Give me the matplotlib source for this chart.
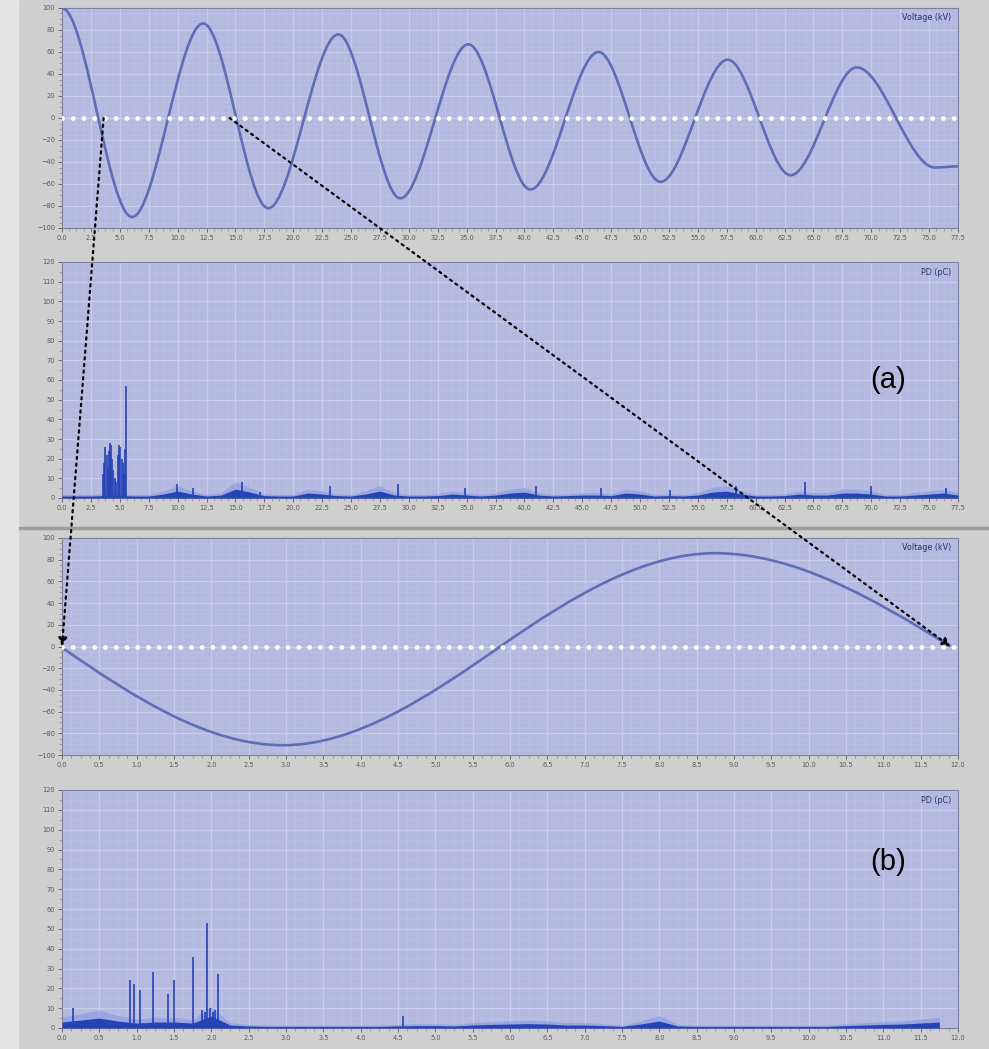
import numpy as np
import matplotlib
matplotlib.use('Agg')
import matplotlib.pyplot as plt
from matplotlib.path import Path
from matplotlib.patches import PathPatch, ConnectionPatch
from matplotlib.ticker import MultipleLocator, FormatStrFormatter

# ---------------- data ----------------
# (a) voltage: extrema of the damped oscillation (ms, kV)
volt_a_t = [0.0, 6.06, 12.21, 17.84, 23.90, 29.26, 35.15, 40.52, 46.41,
            51.77, 57.58, 63.03, 68.74, 75.5, 77.5]
volt_a_v = [100, -90, 86, -82, 76, -73, 67, -65, 60, -58, 53, -52, 46, -45, -44]

# (a) PD baseline level every 1.25 ms (pC)
pd_a_base_t = [i * 1.25 for i in range(63)]
pd_a_base_v = [1.0, 1.0, 1.0, 1.2, 1.2, 1.0, 1.0, 2.0, 3.5, 2.0, 1.0, 1.5, 4.5,
               3.0, 1.2, 1.0, 1.0, 2.5, 2.0, 1.2, 1.0, 2.0, 3.5, 1.5, 1.0, 1.0,
               1.2, 2.0, 1.5, 1.0, 1.5, 2.5, 3.0, 1.5, 1.0, 1.2, 1.5, 1.5, 1.2,
               2.5, 2.0, 1.0, 1.2, 1.0, 1.5, 3.0, 3.5, 2.0, 1.0, 1.0, 1.2, 2.0,
               1.5, 1.5, 2.5, 2.5, 2.0, 1.0, 1.0, 1.5, 2.0, 2.5, 1.5]
# (a) PD pulses
pd_a_pulse_t = [3.55, 3.65, 3.75, 3.85, 3.95, 4.05, 4.15, 4.25, 4.35, 4.45,
                4.55, 4.70, 4.85, 4.95, 5.05, 5.15, 5.25, 5.35, 5.45, 5.54,
                9.95, 11.3, 15.6, 17.1, 23.2, 29.1, 34.9, 41.0, 46.6, 52.6,
                58.3, 64.3, 70.0, 76.5]
pd_a_pulse_v = [12, 18, 26, 22, 16, 24, 28, 27, 20, 14,
                10, 8, 22, 27, 26, 20, 18, 12, 25, 57,
                7, 5, 8, 3, 6, 7, 5, 6, 5, 4,
                6, 8, 6, 5]

# (b) voltage: one cycle, zero crossings and extrema (ms, kV)
volt_b_t = [0.0, 2.96, 5.87, 8.75, 11.9]
volt_b_v = [-1, -91, 0, 86, 0]

# (b) PD baseline every 0.25 ms
pd_b_base_t = [i * 0.25 for i in range(48)]
pd_b_base_v = [3, 4, 5, 3.5, 2.5, 3, 3, 2.5, 6, 1.5, 1.0, 0.8, 0.8, 0.8, 0.8,
               0.8, 0.8, 0.8, 1.0, 1.2, 1.2, 1.0, 1.5, 1.8, 2.0, 2.2, 2.0, 1.5,
               1.5, 1.2, 0.8, 2.0, 3.5, 1.0, 0.8, 0.8, 0.8, 0.8, 0.8, 0.8, 0.8,
               0.8, 1.2, 1.5, 1.8, 2.0, 2.5, 3.0]
pd_b_pulse_t = [0.15, 0.91, 0.97, 1.05, 1.22, 1.42, 1.50, 1.75, 1.88, 1.92,
                1.94, 1.98, 2.02, 2.05, 2.09, 4.57]
pd_b_pulse_v = [10, 24, 22, 19, 28, 17, 24, 36, 9, 8, 53, 10, 8, 9, 27, 6]

a_ticks = [i * 2.5 for i in range(32)]
b_ticks = [i * 0.5 for i in range(25)]
volt_ticks = list(range(-100, 101, 20))
pd_ticks = list(range(0, 121, 10))

# zero crossings used by the arrows
cross_a = [3.6, 14.5]
cross_b = [0.0, 11.9]

# ---------------- style ----------------
FIG_BG = '#cfcfcf'
AX_BG = '#b6b9df'
GRID_MAJ = '#c9ccee'
GRID_MIN = '#bec1e6'
CURVE = '#5e6db6'
PD_DARK = '#2443b5'
PD_LIGHT = '#7b93e6'
LBL = '#5a5a5a'


def smooth_path(ts, vs):
    n = len(ts)
    m = []
    for i in range(n):
        if 0 < i < n - 1:
            if (vs[i] - vs[i - 1]) * (vs[i + 1] - vs[i]) < 0:
                m.append(0.0)
            else:
                m.append(np.pi / 2 * (vs[i + 1] - vs[i - 1]) / (ts[i + 1] - ts[i - 1]))
        else:
            j = 1 if i == 0 else n - 2
            if abs(vs[i]) < 0.2 * abs(vs[j]):
                m.append(np.pi / 2 * (vs[j] - vs[i]) / (ts[j] - ts[i]))
            else:
                m.append(0.0)
    verts = [(ts[0], vs[0])]
    codes = [Path.MOVETO]
    for i in range(n - 1):
        dt = ts[i + 1] - ts[i]
        verts += [(ts[i] + dt / 3, vs[i] + m[i] * dt / 3),
                  (ts[i + 1] - dt / 3, vs[i + 1] - m[i + 1] * dt / 3),
                  (ts[i + 1], vs[i + 1])]
        codes += [Path.CURVE4] * 3
    return Path(verts, codes)


fig = plt.figure(figsize=(9.89, 10.49), dpi=100, facecolor=FIG_BG)

L, W = 62 / 989, 896 / 989


def ax_at(top_px, bot_px):
    return fig.add_axes([L, 1 - bot_px / 1049, W, (bot_px - top_px) / 1049])


def style(ax, xmax, xticks, xminor, yticks, ymin, ymax, yminor, label):
    ax.set_facecolor(AX_BG)
    ax.set_xlim(0, xmax)
    ax.set_ylim(ymin, ymax)
    ax.set_xticks(xticks)
    ax.set_yticks(yticks)
    ax.xaxis.set_minor_locator(MultipleLocator(xminor))
    ax.yaxis.set_minor_locator(MultipleLocator(yminor))
    ax.xaxis.set_major_formatter(FormatStrFormatter('%.1f'))
    ax.grid(True, which='major', color=GRID_MAJ, lw=0.9, zorder=0)
    ax.grid(True, which='minor', color=GRID_MIN, lw=0.5, zorder=0)
    ax.set_axisbelow(True)
    ax.tick_params(which='major', labelsize=4.8, colors=LBL, length=3, width=0.6, pad=2)
    ax.tick_params(which='minor', length=2, width=0.5, colors='#8a8a8a')
    for s in ax.spines.values():
        s.set_color('#7c819e')
        s.set_linewidth(0.8)
    ax.text(0.992, 0.975, label, transform=ax.transAxes, ha='right', va='top',
            fontsize=5.8, color='#2b3070')


# ---- (a) voltage
ax1 = ax_at(8, 228)
style(ax1, 77.5, a_ticks, 0.625, volt_ticks, -100, 100, 5, 'Voltage (kV)')
ax1.add_patch(PathPatch(smooth_path(volt_a_t, volt_a_v), fill=False,
                        edgecolor=CURVE, lw=1.9, zorder=3))
ax1.axhline(0, color='white', lw=3.5, ls=(0, (0.01, 2.2)),
            dash_capstyle='round', zorder=4)

# ---- (a) PD
ax2 = ax_at(262, 498)
style(ax2, 77.5, a_ticks, 0.625, pd_ticks, 0, 120, 5, 'PD (pC)')
ax2.fill_between(pd_a_base_t, 0, [v * 1.8 for v in pd_a_base_v], color=PD_LIGHT,
                 alpha=0.5, lw=0, zorder=2)
ax2.fill_between(pd_a_base_t, 0, pd_a_base_v, color=PD_DARK, lw=0, zorder=3)
ax2.vlines(pd_a_pulse_t, 0, pd_a_pulse_v, color=PD_DARK, lw=1.2, zorder=3)

# ---- (b) voltage
ax3 = ax_at(538, 755)
style(ax3, 12.0, b_ticks, 0.125, volt_ticks, -100, 100, 5, 'Voltage (kV)')
ax3.add_patch(PathPatch(smooth_path(volt_b_t, volt_b_v), fill=False,
                        edgecolor=CURVE, lw=1.9, zorder=3))
ax3.axhline(0, color='white', lw=3.5, ls=(0, (0.01, 2.2)),
            dash_capstyle='round', zorder=4)

# ---- (b) PD
ax4 = ax_at(790, 1028)
style(ax4, 12.0, b_ticks, 0.125, pd_ticks, 0, 120, 5, 'PD (pC)')
ax4.fill_between(pd_b_base_t, 0, [v * 1.8 for v in pd_b_base_v], color=PD_LIGHT,
                 alpha=0.5, lw=0, zorder=2)
ax4.fill_between(pd_b_base_t, 0, pd_b_base_v, color=PD_DARK, lw=0, zorder=3)
ax4.vlines(pd_b_pulse_t, 0, pd_b_pulse_v, color=PD_DARK, lw=1.2, zorder=3)

# separator between (a) and (b)
fig.add_artist(plt.Line2D([0.02, 1.0], [1 - 528 / 1049] * 2, transform=fig.transFigure,
                          color='#9d9d9d', lw=2.5))
fig.add_artist(plt.Rectangle((0, 0), 0.018, 1, transform=fig.transFigure,
                             color='#e4e4e4', zorder=-1))

# arrows from (a) zero crossings to (b)
for xa, xb in zip(cross_a, cross_b):
    con = ConnectionPatch(xyA=(xa, 0), coordsA=ax1.transData,
                          xyB=(xb, 0), coordsB=ax3.transData,
                          arrowstyle='-|>', mutation_scale=12, color='black',
                          lw=1.6, ls=(0, (1, 2)), zorder=10)
    fig.add_artist(con)

fig.text(888 / 989, 1 - 380 / 1049, '(a)', fontsize=21, family='Liberation Sans',
         ha='center', va='center', color='black')
fig.text(888 / 989, 1 - 862 / 1049, '(b)', fontsize=21, family='Liberation Sans',
         ha='center', va='center', color='black')

fig.savefig('out.png', dpi=100, facecolor=FIG_BG)
